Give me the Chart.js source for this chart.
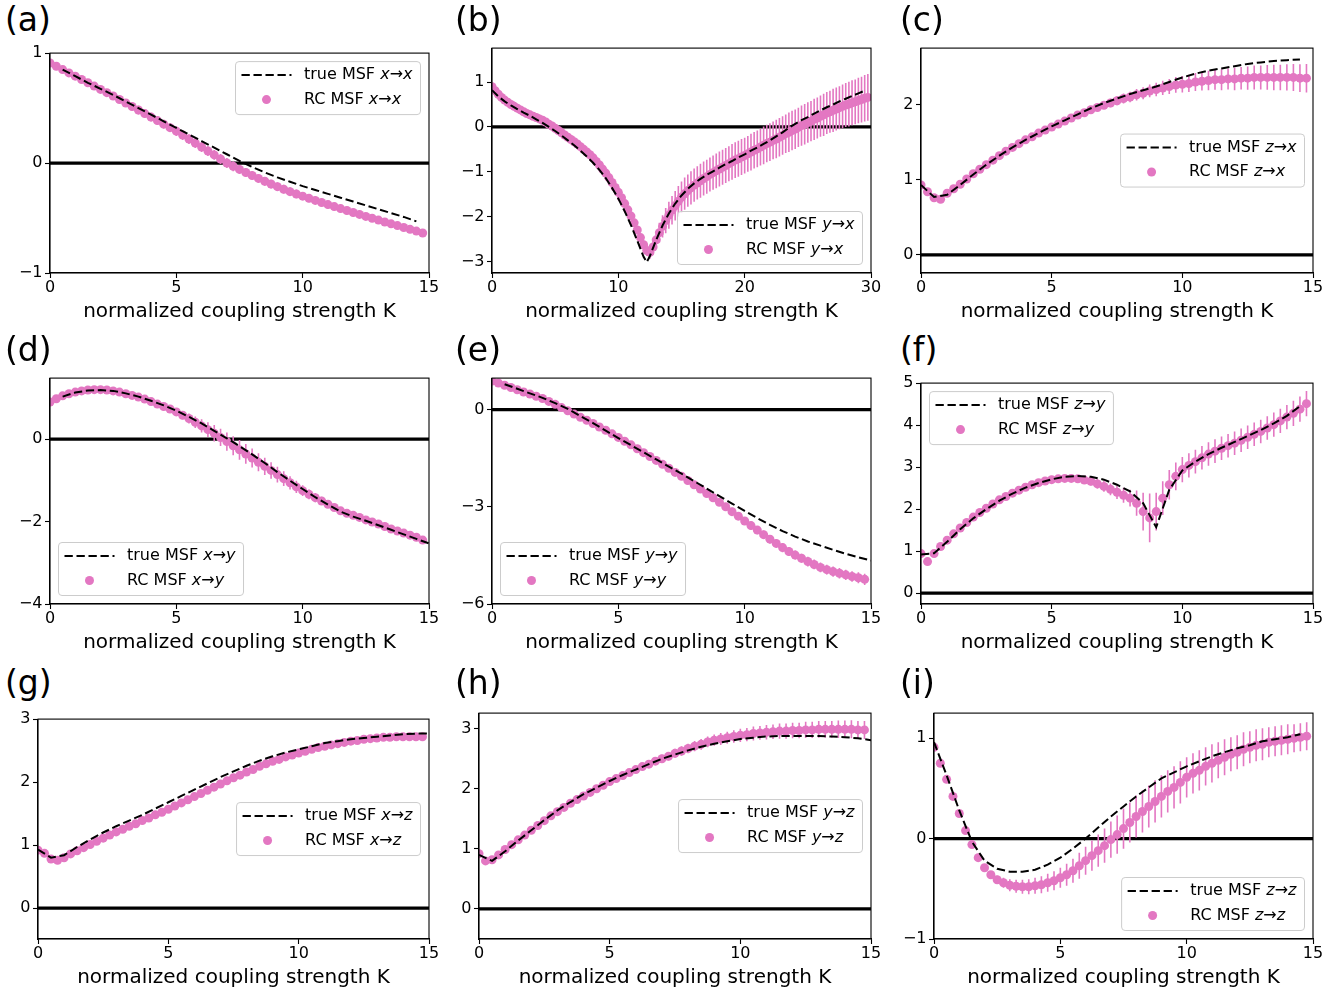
<!DOCTYPE html>
<html>
<head>
<meta charset="utf-8">
<script src="https://cdn.jsdelivr.net/npm/chart.js@4.4.1/dist/chart.umd.min.js"></script>
<style>
  body { margin: 0; background: #fff; width: 1342px; height: 992px; overflow: hidden; position: relative; font-family: "DejaVu Sans"; }
  canvas { position: absolute; }
  .lab { position: absolute; font-size: 33px; line-height: 32px; color: #000; }
</style>
</head>
<body>
<script>
// coupling strength grids
const K_RC = [0,0.25,0.5,0.75,1,1.25,1.5,1.75,2,2.25,2.5,2.75,3,3.25,3.5,3.75,4,4.25,4.5,4.75,5,5.25,5.5,5.75,6,6.25,6.5,6.75,7,7.25,7.5,7.75,8,8.25,8.5,8.75,9,9.25,9.5,9.75,10,10.25,10.5,10.75,11,11.25,11.5,11.75,12,12.25,12.5,12.75,13,13.25,13.5,13.75,14,14.25,14.5,14.75];
const K_TRUE = [0,0.5,1,1.5,2,2.5,3,3.5,4,4.5,5,5.5,6,6.5,7,7.5,8,8.5,9,9.5,10,10.5,11,11.5,12,12.5,13,13.5,14,14.5,15];
const K_RC_B = [0,0.25,0.5,0.75,1,1.25,1.5,1.75,2,2.25,2.5,2.75,3,3.25,3.5,3.75,4,4.25,4.5,4.75,5,5.25,5.5,5.75,6,6.25,6.5,6.75,7,7.25,7.5,7.75,8,8.25,8.5,8.75,9,9.25,9.5,9.75,10,10.25,10.5,10.75,11,11.25,11.5,11.75,12,12.25,12.5,12.75,13,13.25,13.5,13.75,14,14.25,14.5,14.75,15,15.25,15.5,15.75,16,16.25,16.5,16.75,17,17.25,17.5,17.75,18,18.25,18.5,18.75,19,19.25,19.5,19.75,20,20.25,20.5,20.75,21,21.25,21.5,21.75,22,22.25,22.5,22.75,23,23.25,23.5,23.75,24,24.25,24.5,24.75,25,25.25,25.5,25.75,26,26.25,26.5,26.75,27,27.25,27.5,27.75,28,28.25,28.5,28.75,29,29.25,29.5,29.75];
const K_TRUE_B = [0,0.5,1,1.5,2,2.5,3,3.5,4,4.5,5,5.5,6,6.5,7,7.5,8,8.5,9,9.5,10,10.5,11,11.5,12,12.25,12.5,13,13.5,14,14.5,15,15.5,16,16.5,17,17.5,18,18.5,19,19.5,20,20.5,21,21.5,22,22.5,23,23.5,24,24.5,25,25.5,26,26.5,27,27.5,28,28.5,29,29.5,30];

const X_TICKS = [0,5,10,15];
const X_TICKS_B = [0,10,20,30];

// (a) x -> x
const rcA = [0.91,0.88,0.85,0.82,0.79,0.76,0.73,0.70,0.67,0.64,0.61,0.578,0.546,0.514,0.482,0.45,0.418,0.386,0.354,0.322,0.29,0.254,0.218,0.182,0.146,0.11,0.074,0.037,0.0,-0.029,-0.058,-0.086,-0.113,-0.14,-0.166,-0.191,-0.215,-0.238,-0.26,-0.281,-0.301,-0.321,-0.34,-0.359,-0.378,-0.396,-0.414,-0.432,-0.45,-0.467,-0.485,-0.502,-0.519,-0.536,-0.553,-0.569,-0.586,-0.603,-0.619,-0.636];
const errA = [0.02,0.02,0.02,0.025,0.025,0.025,0.03,0.03,0.03,0.03,0.03,0.035,0.035,0.035,0.04,0.04,0.04,0.04,0.04,0.04,0.045,0.045,0.045,0.045,0.045,0.045,0.045,0.045,0.045,0.045,0.04,0.04,0.04,0.04,0.04,0.04,0.04,0.04,0.04,0.04,0.035,0.035,0.035,0.035,0.035,0.035,0.035,0.035,0.035,0.035,0.03,0.03,0.03,0.03,0.03,0.03,0.03,0.03,0.03,0.03];
const trueA = [null,0.85,0.79,0.73,0.675,0.62,0.56,0.5,0.44,0.38,0.32,0.26,0.2,0.14,0.08,0.02,-0.035,-0.085,-0.13,-0.17,-0.21,-0.245,-0.28,-0.315,-0.35,-0.385,-0.42,-0.455,-0.49,-0.53,null];
const yTicksA = [-1,0,1];

// (b) y -> x
const rcB = [0.9,0.81,0.73,0.66,0.6,0.55,0.5,0.46,0.42,0.38,0.34,0.3,0.27,0.24,0.21,0.18,0.15,0.11,0.06,0.02,-0.03,-0.08,-0.13,-0.18,-0.23,-0.28,-0.33,-0.38,-0.44,-0.5,-0.56,-0.62,-0.69,-0.77,-0.85,-0.94,-1.03,-1.13,-1.24,-1.35,-1.46,-1.58,-1.71,-1.85,-1.99,-2.14,-2.3,-2.47,-2.63,-2.76,-2.8,-2.68,-2.52,-2.36,-2.22,-2.09,-1.97,-1.86,-1.76,-1.66,-1.57,-1.49,-1.42,-1.36,-1.3,-1.25,-1.2,-1.15,-1.11,-1.06,-1.02,-0.98,-0.94,-0.9,-0.86,-0.82,-0.78,-0.74,-0.71,-0.67,-0.64,-0.6,-0.56,-0.52,-0.49,-0.45,-0.41,-0.37,-0.34,-0.3,-0.27,-0.23,-0.19,-0.15,-0.12,-0.08,-0.05,-0.01,0.03,0.06,0.1,0.13,0.17,0.2,0.24,0.27,0.31,0.34,0.37,0.4,0.43,0.46,0.49,0.51,0.54,0.56,0.59,0.61,0.64,0.66];
const errB = [0.03,0.03,0.03,0.03,0.03,0.03,0.03,0.03,0.03,0.03,0.03,0.03,0.03,0.03,0.03,0.03,0.03,0.03,0.03,0.03,0.03,0.03,0.03,0.03,0.03,0.03,0.03,0.03,0.03,0.03,0.03,0.03,0.04,0.04,0.04,0.04,0.04,0.04,0.04,0.04,0.05,0.05,0.06,0.06,0.07,0.07,0.08,0.09,0.1,0.12,0.14,0.17,0.2,0.22,0.25,0.28,0.3,0.32,0.33,0.34,0.35,0.36,0.36,0.37,0.37,0.37,0.38,0.38,0.38,0.38,0.38,0.39,0.39,0.39,0.39,0.39,0.4,0.4,0.4,0.4,0.4,0.4,0.41,0.41,0.41,0.41,0.42,0.42,0.42,0.42,0.43,0.43,0.43,0.43,0.44,0.44,0.44,0.44,0.45,0.45,0.45,0.45,0.46,0.46,0.46,0.47,0.47,0.47,0.48,0.48,0.48,0.49,0.49,0.5,0.5,0.5,0.51,0.51,0.52,0.52];
const trueB = [0.82,0.68,0.57,0.48,0.4,0.32,0.25,0.17,0.09,0.0,-0.09,-0.19,-0.3,-0.41,-0.53,-0.66,-0.8,-0.96,-1.14,-1.36,-1.6,-1.88,-2.19,-2.54,-2.9,-3.02,-2.88,-2.52,-2.2,-1.93,-1.71,-1.53,-1.38,-1.26,-1.16,-1.07,-0.99,-0.91,-0.83,-0.76,-0.68,-0.61,-0.53,-0.46,-0.38,-0.3,-0.21,-0.12,-0.02,0.07,0.15,0.22,0.3,0.37,0.44,0.5,0.57,0.63,0.69,0.75,0.81,null];
const yTicksB = [-3,-2,-1,0,1];

// (c) z -> x
const rcC = [0.93,0.84,0.76,0.74,0.82,0.88,0.94,1.01,1.08,1.14,1.2,1.26,1.32,1.38,1.43,1.48,1.53,1.57,1.62,1.66,1.70,1.74,1.78,1.82,1.86,1.89,1.93,1.96,1.99,2.02,2.05,2.08,2.1,2.13,2.15,2.18,2.2,2.22,2.24,2.26,2.27,2.28,2.3,2.31,2.32,2.33,2.33,2.34,2.34,2.35,2.35,2.36,2.36,2.36,2.36,2.36,2.36,2.36,2.35,2.35];
const errC = [0.02,0.02,0.02,0.02,0.02,0.02,0.02,0.02,0.02,0.02,0.02,0.02,0.02,0.025,0.025,0.025,0.025,0.03,0.03,0.03,0.03,0.03,0.035,0.035,0.035,0.04,0.04,0.045,0.05,0.055,0.06,0.065,0.07,0.075,0.08,0.085,0.09,0.095,0.1,0.105,0.11,0.115,0.12,0.125,0.13,0.135,0.14,0.14,0.15,0.15,0.155,0.16,0.16,0.165,0.17,0.17,0.175,0.18,0.185,0.19];
const trueC = [0.93,0.77,0.8,0.93,1.07,1.2,1.32,1.43,1.53,1.62,1.71,1.79,1.87,1.95,2.02,2.08,2.14,2.19,2.24,2.3,2.36,2.41,2.45,2.48,2.51,2.54,2.56,2.58,2.59,2.6,null];
const yTicksC = [0,1,2];

// (d) x -> y
const rcD = [0.9,0.98,1.05,1.1,1.14,1.17,1.19,1.2,1.2,1.19,1.17,1.14,1.1,1.06,1.02,0.97,0.91,0.85,0.79,0.73,0.66,0.58,0.5,0.41,0.32,0.23,0.14,0.04,-0.06,-0.16,-0.26,-0.36,-0.46,-0.56,-0.66,-0.76,-0.86,-0.96,-1.06,-1.16,-1.25,-1.34,-1.42,-1.5,-1.58,-1.66,-1.74,-1.8,-1.85,-1.9,-1.96,-2.01,-2.06,-2.12,-2.18,-2.23,-2.28,-2.33,-2.38,-2.45];
const errD = [0.03,0.03,0.03,0.03,0.03,0.03,0.03,0.03,0.03,0.03,0.03,0.03,0.03,0.03,0.04,0.04,0.05,0.05,0.06,0.07,0.08,0.1,0.12,0.14,0.16,0.18,0.2,0.21,0.22,0.23,0.24,0.24,0.23,0.22,0.21,0.2,0.19,0.18,0.16,0.15,0.13,0.12,0.11,0.1,0.09,0.08,0.07,0.06,0.06,0.05,0.05,0.05,0.05,0.05,0.05,0.05,0.05,0.05,0.05,0.05];
const trueD = [null,1.03,1.13,1.18,1.19,1.17,1.11,1.03,0.93,0.82,0.69,0.54,0.38,0.2,0.02,-0.17,-0.37,-0.58,-0.8,-1.01,-1.21,-1.41,-1.59,-1.76,-1.88,-1.98,-2.09,-2.2,-2.31,-2.42,-2.53];
const yTicksD = [-4,-2,0];

// (e) y -> y
const rcE = [0.88,0.82,0.75,0.68,0.61,0.54,0.48,0.41,0.34,0.25,0.16,0.06,-0.04,-0.14,-0.24,-0.33,-0.43,-0.54,-0.64,-0.75,-0.86,-0.98,-1.09,-1.21,-1.33,-1.45,-1.57,-1.69,-1.81,-1.94,-2.06,-2.19,-2.32,-2.45,-2.59,-2.72,-2.86,-3.0,-3.15,-3.29,-3.44,-3.58,-3.72,-3.86,-4.0,-4.13,-4.26,-4.38,-4.49,-4.59,-4.69,-4.78,-4.87,-4.94,-5.0,-5.05,-5.1,-5.15,-5.19,-5.24];
const errE = [0.04,0.04,0.04,0.04,0.04,0.04,0.04,0.04,0.05,0.05,0.05,0.05,0.05,0.05,0.06,0.06,0.06,0.06,0.07,0.07,0.07,0.07,0.08,0.08,0.08,0.08,0.09,0.09,0.09,0.09,0.1,0.1,0.1,0.1,0.11,0.11,0.11,0.11,0.12,0.12,0.12,0.12,0.13,0.13,0.13,0.13,0.14,0.14,0.14,0.14,0.15,0.15,0.15,0.15,0.16,0.16,0.16,0.16,0.17,0.17];
const trueE = [null,0.78,0.64,0.5,0.36,0.2,0.02,-0.2,-0.42,-0.65,-0.88,-1.1,-1.32,-1.54,-1.76,-1.98,-2.21,-2.44,-2.67,-2.9,-3.13,-3.35,-3.56,-3.75,-3.92,-4.07,-4.2,-4.33,-4.45,-4.56,-4.66];
const yTicksE = [-6,-3,0];

// (f) z -> y
const rcF = [0.94,0.75,0.94,1.11,1.26,1.41,1.55,1.68,1.81,1.92,2.02,2.12,2.22,2.3,2.38,2.45,2.52,2.58,2.63,2.67,2.7,2.72,2.73,2.73,2.72,2.69,2.66,2.6,2.54,2.47,2.4,2.33,2.26,2.14,1.94,1.79,1.94,2.26,2.58,2.78,2.94,3.04,3.13,3.22,3.31,3.38,3.45,3.51,3.57,3.64,3.71,3.78,3.85,3.93,4.01,4.1,4.19,4.28,4.38,4.51];
const errF = [0.03,0.03,0.03,0.03,0.03,0.03,0.03,0.03,0.03,0.03,0.03,0.03,0.03,0.03,0.03,0.03,0.03,0.03,0.03,0.03,0.03,0.04,0.05,0.06,0.07,0.08,0.1,0.11,0.13,0.14,0.16,0.18,0.2,0.3,0.45,0.58,0.45,0.4,0.35,0.33,0.3,0.29,0.28,0.28,0.28,0.28,0.28,0.28,0.28,0.28,0.28,0.28,0.28,0.28,0.29,0.29,0.29,0.3,0.3,0.3];
const trueF = [0.92,0.95,1.22,1.52,1.78,2.0,2.2,2.37,2.51,2.62,2.71,2.77,2.79,2.77,2.7,2.58,2.42,2.14,1.57,2.46,2.92,3.13,3.31,3.46,3.6,3.74,3.88,4.04,4.22,4.45,null];
const yTicksF = [0,1,2,3,4,5];

// (g) x -> z
const rcG = [0.92,0.87,0.78,0.76,0.8,0.86,0.91,0.96,1.01,1.06,1.11,1.16,1.21,1.25,1.3,1.34,1.39,1.43,1.48,1.52,1.57,1.62,1.67,1.72,1.77,1.82,1.87,1.92,1.97,2.02,2.07,2.11,2.16,2.2,2.25,2.29,2.33,2.36,2.4,2.43,2.46,2.49,2.52,2.55,2.57,2.59,2.61,2.63,2.65,2.66,2.68,2.69,2.7,2.71,2.71,2.72,2.72,2.72,2.72,2.72];
const errG = [0.02,0.02,0.02,0.02,0.02,0.02,0.025,0.025,0.025,0.025,0.03,0.03,0.03,0.03,0.03,0.03,0.03,0.03,0.03,0.03,0.035,0.035,0.035,0.035,0.035,0.035,0.035,0.035,0.035,0.035,0.04,0.04,0.04,0.04,0.04,0.04,0.04,0.04,0.04,0.04,0.04,0.04,0.04,0.04,0.04,0.04,0.04,0.04,0.04,0.04,0.045,0.045,0.045,0.045,0.045,0.045,0.045,0.045,0.045,0.045];
const trueG = [0.93,0.8,0.84,0.97,1.09,1.2,1.3,1.39,1.48,1.58,1.68,1.78,1.88,1.98,2.08,2.17,2.26,2.34,2.41,2.47,2.52,2.57,2.62,2.65,2.68,2.7,2.72,2.74,2.76,2.77,2.77];
const yTicksG = [0,1,2,3];

// (h) y -> z
const rcH = [0.92,0.8,0.82,0.9,0.99,1.07,1.15,1.23,1.31,1.39,1.47,1.55,1.62,1.69,1.76,1.82,1.88,1.94,2.0,2.06,2.12,2.17,2.22,2.27,2.32,2.37,2.41,2.46,2.5,2.54,2.59,2.63,2.67,2.71,2.74,2.78,2.81,2.83,2.85,2.87,2.89,2.9,2.92,2.93,2.94,2.95,2.96,2.96,2.97,2.97,2.98,2.98,2.99,2.99,2.99,2.99,2.99,2.99,2.98,2.98];
const errH = [0.02,0.02,0.02,0.02,0.02,0.02,0.02,0.025,0.025,0.025,0.025,0.025,0.03,0.03,0.03,0.03,0.03,0.035,0.035,0.035,0.04,0.04,0.045,0.045,0.05,0.05,0.055,0.06,0.065,0.07,0.075,0.08,0.08,0.085,0.09,0.09,0.095,0.1,0.1,0.105,0.11,0.11,0.115,0.115,0.12,0.12,0.125,0.125,0.13,0.13,0.135,0.135,0.14,0.14,0.14,0.145,0.145,0.15,0.15,0.15];
const trueH = [0.9,0.8,0.96,1.14,1.31,1.48,1.64,1.78,1.91,2.02,2.13,2.23,2.32,2.41,2.5,2.57,2.64,2.7,2.75,2.79,2.83,2.85,2.87,2.88,2.88,2.88,2.88,2.87,2.86,2.84,2.81];
const yTicksH = [0,1,2,3];

// (i) z -> z
const rcI = [0.91,0.75,0.59,0.42,0.25,0.08,-0.06,-0.19,-0.29,-0.36,-0.41,-0.44,-0.465,-0.475,-0.48,-0.48,-0.47,-0.46,-0.44,-0.42,-0.39,-0.36,-0.32,-0.27,-0.22,-0.17,-0.12,-0.07,-0.01,0.04,0.1,0.16,0.22,0.27,0.32,0.37,0.42,0.47,0.51,0.56,0.61,0.65,0.68,0.72,0.75,0.78,0.81,0.84,0.86,0.89,0.91,0.93,0.94,0.96,0.97,0.98,0.99,1.0,1.01,1.02];
const errI = [0,0,0,0,0,0,0,0.005,0.01,0.02,0.04,0.05,0.06,0.065,0.07,0.075,0.08,0.085,0.09,0.095,0.1,0.11,0.12,0.13,0.14,0.15,0.16,0.17,0.18,0.19,0.2,0.2,0.21,0.21,0.21,0.21,0.21,0.21,0.21,0.21,0.2,0.2,0.2,0.19,0.19,0.18,0.18,0.17,0.17,0.17,0.16,0.16,0.16,0.15,0.15,0.15,0.15,0.14,0.14,0.14];
const trueI = [0.96,0.63,0.28,-0.03,-0.22,-0.3,-0.33,-0.33,-0.31,-0.26,-0.19,-0.1,0.0,0.11,0.22,0.32,0.42,0.51,0.6,0.66,0.72,0.77,0.82,0.86,0.9,0.93,0.97,0.99,1.01,1.04,null];
const yTicksI = [-1,0,1];

const PINK = '#e377c2';
const FONT = '"DejaVu Sans"';
const Y_W = 48, PAD_T = 12, PAD_R = 18, X_H = 52;

Chart.defaults.font.family = FONT;
Chart.defaults.color = '#000';

// area = [left, top, width, height] of each plotting box on the page
const panels = [
  {id:'a', pair:['x','x'], kRC:K_RC, rc:rcA, err:errA, kTrue:K_TRUE, tru:trueA, xMax:15, xTicks:X_TICKS, yMin:-1, yMax:1, yTicks:yTicksA, loc:'upper right', area:[50,53,379,220], lab:[5,4]},
  {id:'b', pair:['y','x'], kRC:K_RC_B, rc:rcB, err:errB, kTrue:K_TRUE_B, tru:trueB, xMax:30, xTicks:X_TICKS_B, yMin:-3.26, yMax:1.76, yTicks:yTicksB, loc:'lower right', area:[492,48,379,225], lab:[455,4]},
  {id:'c', pair:['z','x'], kRC:K_RC, rc:rcC, err:errC, kTrue:K_TRUE, tru:trueC, xMax:15, xTicks:X_TICKS, yMin:-0.24, yMax:2.75, yTicks:yTicksC, loc:'center right', area:[921,48,392,225], lab:[900,4]},
  {id:'d', pair:['x','y'], kRC:K_RC, rc:rcD, err:errD, kTrue:K_TRUE, tru:trueD, xMax:15, xTicks:X_TICKS, yMin:-4, yMax:1.48, yTicks:yTicksD, loc:'lower left', area:[50,378,379,226], lab:[5,334]},
  {id:'e', pair:['y','y'], kRC:K_RC, rc:rcE, err:errE, kTrue:K_TRUE, tru:trueE, xMax:15, xTicks:X_TICKS, yMin:-6, yMax:0.97, yTicks:yTicksE, loc:'lower left', area:[492,378,379,226], lab:[455,334]},
  {id:'f', pair:['z','y'], kRC:K_RC, rc:rcF, err:errF, kTrue:K_TRUE, tru:trueF, xMax:15, xTicks:X_TICKS, yMin:-0.26, yMax:5, yTicks:yTicksF, loc:'upper left', area:[921,383,392,221], lab:[900,334]},
  {id:'g', pair:['x','z'], kRC:K_RC, rc:rcG, err:errG, kTrue:K_TRUE, tru:trueG, xMax:15, xTicks:X_TICKS, yMin:-0.49, yMax:3, yTicks:yTicksG, loc:'center right', area:[38,719,391,220], lab:[5,667]},
  {id:'h', pair:['y','z'], kRC:K_RC, rc:rcH, err:errH, kTrue:K_TRUE, tru:trueH, xMax:15, xTicks:X_TICKS, yMin:-0.5, yMax:3.26, yTicks:yTicksH, loc:'center right', area:[479,713,392,226], lab:[455,667]},
  {id:'i', pair:['z','z'], kRC:K_RC, rc:rcI, err:errI, kTrue:K_TRUE, tru:trueI, xMax:15, xTicks:X_TICKS, yMin:-1, yMax:1.25, yTicks:yTicksI, loc:'lower right', area:[934,713,379,226], lab:[900,667]}
];

function fmt(v) { return v < 0 ? '\u2212' + Math.abs(v) : String(v); }

function legendRow(ctx, head, pair, x, y, draw) {
  const parts = [[head, false], [pair[0], true], ['\u2192', false], [pair[1], true]];
  let w = 0;
  parts.forEach(([t, it]) => {
    ctx.font = (it ? 'italic ' : '') + '16px ' + FONT;
    if (draw) ctx.fillText(t, x + w, y);
    w += ctx.measureText(t).width;
  });
  return w;
}

function roundBox(ctx, x, y, w, h, r) {
  ctx.beginPath();
  ctx.moveTo(x + r, y);
  ctx.lineTo(x + w - r, y); ctx.arcTo(x + w, y, x + w, y + r, r);
  ctx.lineTo(x + w, y + h - r); ctx.arcTo(x + w, y + h, x + w - r, y + h, r);
  ctx.lineTo(x + r, y + h); ctx.arcTo(x, y + h, x, y + h - r, r);
  ctx.lineTo(x, y + r); ctx.arcTo(x, y, x + r, y, r);
  ctx.closePath();
}

function panelPlugin(p) {
  return {
    id: 'panel_' + p.id,
    beforeDatasetsDraw(chart) {
      const {ctx, chartArea: a, scales: {x: xs, y: ys}} = chart;
      ctx.save();
      ctx.beginPath(); ctx.rect(a.left, a.top, a.right - a.left, a.bottom - a.top); ctx.clip();
      const y0 = ys.getPixelForValue(0);
      ctx.strokeStyle = '#000'; ctx.lineWidth = 3.2;
      ctx.beginPath(); ctx.moveTo(a.left, y0); ctx.lineTo(a.right, y0); ctx.stroke();
      // error bars
      ctx.strokeStyle = PINK; ctx.lineWidth = 1.6;
      ctx.beginPath();
      p.kRC.forEach((k, i) => {
        const e = p.err[i];
        if (!e) return;
        const px = xs.getPixelForValue(k);
        ctx.moveTo(px, ys.getPixelForValue(p.rc[i] + e));
        ctx.lineTo(px, ys.getPixelForValue(p.rc[i] - e));
      });
      ctx.stroke();
      ctx.restore();
    },
    afterDatasetsDraw(chart) {
      const {ctx, chartArea: a} = chart;
      ctx.save();
      // axes box
      ctx.strokeStyle = '#000'; ctx.lineWidth = 1.1;
      ctx.strokeRect(a.left, a.top, a.right - a.left, a.bottom - a.top);
      // legend
      const w1 = legendRow(ctx, 'true MSF ', p.pair, 0, 0, false);
      const w2 = legendRow(ctx, 'RC MSF ', p.pair, 0, 0, false);
      const w = 68.5 + Math.max(w1, w2) + 8, h = 53, pad = 8.5;
      const lx = p.loc.includes('right') ? a.right - pad - w : a.left + pad;
      let ly;
      if (p.loc.startsWith('upper')) ly = a.top + pad;
      else if (p.loc.startsWith('lower')) ly = a.bottom - pad - h;
      else ly = (a.top + a.bottom) / 2 - h / 2;
      roundBox(ctx, lx, ly, w, h, 3.5);
      ctx.fillStyle = 'rgba(255,255,255,0.8)'; ctx.fill();
      ctx.strokeStyle = '#cccccc'; ctx.lineWidth = 1; ctx.stroke();
      const r1 = ly + 13.5, r2 = ly + 38;
      ctx.strokeStyle = '#000'; ctx.lineWidth = 2; ctx.setLineDash([8.3, 3.7]);
      ctx.beginPath(); ctx.moveTo(lx + 6, r1); ctx.lineTo(lx + 56, r1); ctx.stroke();
      ctx.setLineDash([]);
      ctx.fillStyle = PINK;
      ctx.beginPath(); ctx.arc(lx + 31, r2, 4.5, 0, Math.PI * 2); ctx.fill();
      ctx.fillStyle = '#000'; ctx.textBaseline = 'middle'; ctx.textAlign = 'left';
      legendRow(ctx, 'true MSF ', p.pair, lx + 68.5, r1, true);
      legendRow(ctx, 'RC MSF ', p.pair, lx + 68.5, r2, true);
      ctx.restore();
    }
  };
}

panels.forEach(p => {
  const [L, T, W, H] = p.area;
  const cw = W + Y_W + PAD_R, ch = H + PAD_T + X_H;
  const cv = document.createElement('canvas');
  cv.width = cw; cv.height = ch;
  cv.style.left = (L - Y_W) + 'px'; cv.style.top = (T - PAD_T) + 'px';
  cv.style.width = cw + 'px'; cv.style.height = ch + 'px';
  document.body.appendChild(cv);

  const lab = document.createElement('div');
  lab.className = 'lab';
  lab.style.left = p.lab[0] + 'px'; lab.style.top = p.lab[1] + 'px';
  lab.textContent = '(' + p.id + ')';
  document.body.appendChild(lab);

  const tickGrid = { drawOnChartArea: false, drawTicks: true, tickLength: 5, color: '#000', tickWidth: 1.1 };
  new Chart(cv, {
    type: 'line',
    data: {
      datasets: [
        {
          label: 'true MSF',
          data: p.kTrue.map((k, i) => ({x: k, y: p.tru[i]})),
          borderColor: '#000', borderWidth: 2, borderDash: [8.3, 3.7],
          pointRadius: 0, tension: 0, spanGaps: false, fill: false, order: 0
        },
        {
          label: 'RC MSF',
          data: p.kRC.map((k, i) => ({x: k, y: p.rc[i]})),
          showLine: false, pointRadius: 4.5, pointBorderWidth: 0,
          pointBackgroundColor: PINK, pointBorderColor: PINK, clip: 0, order: 1
        }
      ]
    },
    options: {
      responsive: false, animation: false, devicePixelRatio: 1,
      layout: { padding: { top: PAD_T, right: PAD_R, left: 0, bottom: 0 } },
      plugins: { legend: { display: false }, tooltip: { enabled: false } },
      scales: {
        x: {
          type: 'linear', min: 0, max: p.xMax, bounds: 'data',
          afterBuildTicks: s => { s.ticks = p.xTicks.map(v => ({value: v})); },
          afterFit: s => { s.height = X_H; },
          grid: tickGrid,
          border: { display: true, color: '#000', width: 1.1 },
          ticks: { color: '#000', font: { size: 16 }, padding: 0, maxRotation: 0, autoSkip: false, callback: v => fmt(v) },
          title: { display: true, text: 'normalized coupling strength K', color: '#000', font: { size: 20 }, padding: { top: 0, bottom: 1 } }
        },
        y: {
          type: 'linear', min: p.yMin, max: p.yMax, bounds: 'data',
          afterBuildTicks: s => { s.ticks = p.yTicks.map(v => ({value: v})); },
          afterFit: s => { s.width = Y_W; },
          grid: tickGrid,
          border: { display: true, color: '#000', width: 1.1 },
          ticks: { color: '#000', font: { size: 16 }, padding: 2.5, autoSkip: false, callback: v => fmt(v) }
        }
      }
    },
    plugins: [panelPlugin(p)]
  });
});
</script>
</body>
</html>
